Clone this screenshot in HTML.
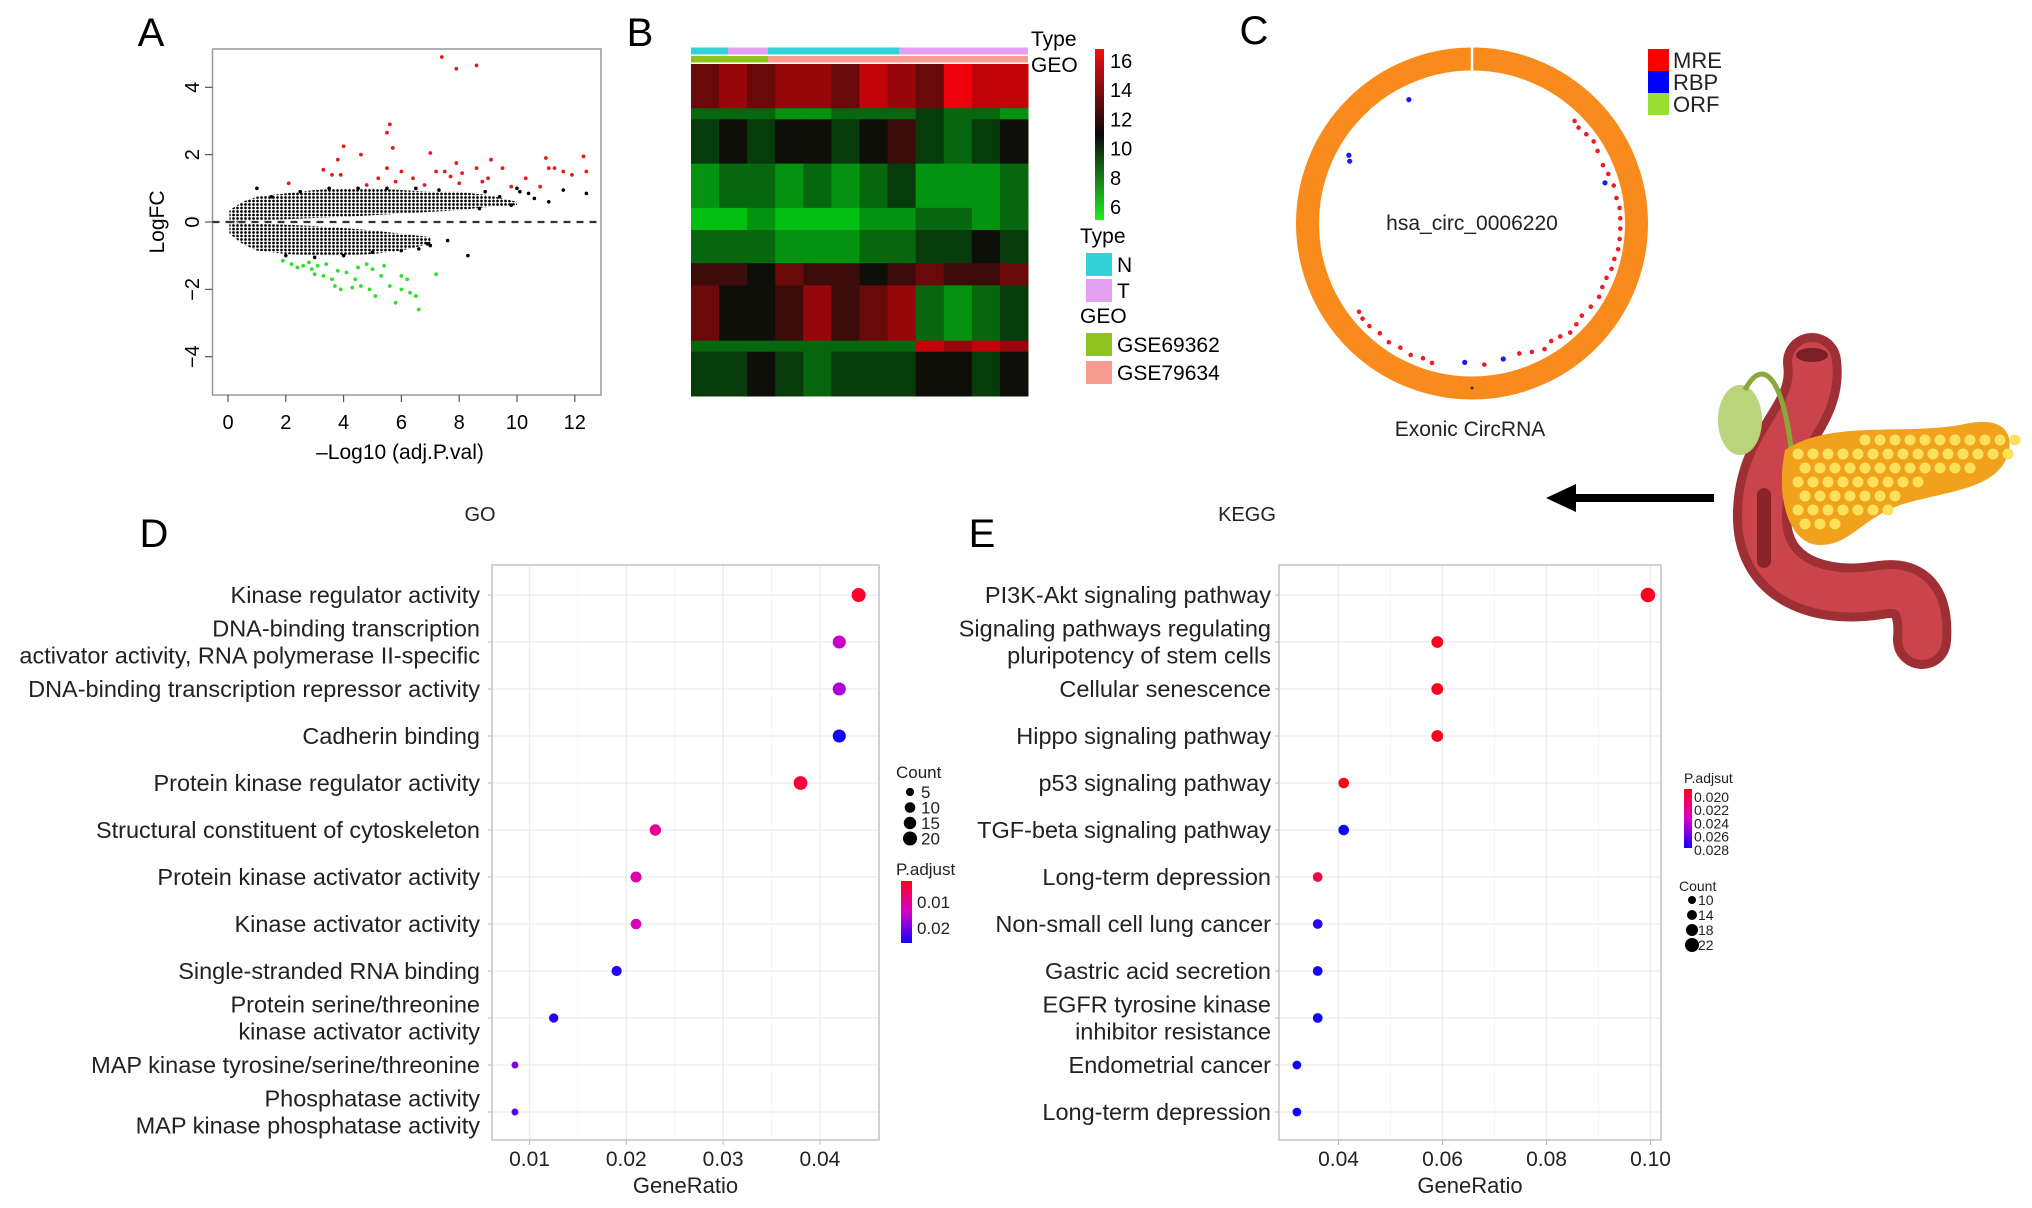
<!DOCTYPE html>
<html><head><meta charset="utf-8"><style>
html,body{margin:0;padding:0;background:#fff;}
svg{display:block;font-family:"Liberation Sans",sans-serif;}
</style></head><body>
<svg id="fig" width="2032" height="1208" viewBox="0 0 2032 1208" xmlns="http://www.w3.org/2000/svg">
<defs>
  <pattern id="dotpat" x="0" y="0" width="4" height="3.5" patternUnits="userSpaceOnUse">
    <circle cx="1.5" cy="1.5" r="1.35" fill="#000"/>
  </pattern>
</defs>
<rect x="0" y="0" width="2032" height="1208" fill="#fff"/>
<g id="pa"></g>
<g id="pb"></g>
<g id="pc"></g>
<g id="pd"></g>
<g id="pe"></g>
<g id="pancreas">
  <path d="M1812,362 C1820,420 1760,440 1762,520 C1764,580 1820,600 1880,590 C1910,585 1925,600 1922,640" fill="none" stroke="#9e2f34" stroke-width="58" stroke-linecap="round"/>
  <path d="M1812,362 C1820,420 1760,440 1762,520 C1764,580 1820,600 1880,590 C1910,585 1925,600 1922,640" fill="none" stroke="#c9454b" stroke-width="40" stroke-linecap="round"/>
  <ellipse cx="1812" cy="355" rx="16" ry="7" fill="#7a1f25"/>
  <rect x="1757" y="488" width="14" height="80" rx="7" fill="#8a2429"/>
  <ellipse cx="1740" cy="420" rx="22" ry="35" fill="#b9d47a"/>
  <path d="M1745,390 C1760,360 1780,370 1790,440 L1800,520" fill="none" stroke="#8aa83a" stroke-width="5"/>
  <path d="M1785,450 C1830,420 1900,435 1960,425 C2000,415 2015,430 2008,455 C1995,490 1950,490 1900,505 C1860,520 1850,545 1820,545 C1790,545 1775,500 1785,450 Z" fill="#f0a21c"/>
  <g id="pbumps"></g>
</g>
<g>
  <line x1="1714" y1="498" x2="1570" y2="498" stroke="#000" stroke-width="8"/>
  <polygon points="1546,498 1576,484 1576,512" fill="#000"/>
</g>
</svg>
<script>
// ===== Panel A data (volcano) =====
const volRedX = [7.4,7.9,8.6,5.6,5.5,5.7,4.0,3.8,4.6,7.0,3.3,3.6,3.9,2.1,5.5,6.0,5.8,6.4,7.2,7.5,7.9,8.1,9.1,9.5,8.6,9.0,10.3,11.0,11.1,11.3,11.6,11.9,12.3,12.4,8.0,6.8,10.8,4.8,5.2,7.7,8.8,9.8];
const volRedY = [4.9,4.55,4.65,2.9,2.65,2.2,2.25,1.85,2.0,2.05,1.55,1.4,1.4,1.15,1.6,1.5,1.2,1.3,1.5,1.5,1.75,1.45,1.85,1.6,1.6,1.3,1.3,1.9,1.6,1.6,1.5,1.4,1.95,1.5,1.15,1.1,1.05,1.1,1.3,1.35,1.2,1.05];
const volGreenX = [1.9,2.2,2.6,2.9,3.1,3.3,3.6,3.7,3.9,4.3,4.6,4.9,5.1,5.3,5.6,5.8,6.0,6.2,6.3,6.6,6.5,4.1,4.5,5.0,2.8,3.0,2.4,3.4,4.8,5.4,7.2,6.0,3.8,4.4];
const volGreenY = [-1.15,-1.25,-1.3,-1.4,-1.3,-1.6,-1.7,-1.9,-2.0,-1.95,-1.9,-2.0,-2.2,-1.6,-1.9,-2.4,-2.0,-1.7,-2.1,-2.6,-2.2,-1.5,-1.35,-1.4,-1.2,-1.55,-1.35,-1.25,-1.25,-1.3,-1.55,-1.6,-1.45,-1.7];
const volBlackX = [8.3,7.6,7.0,10.1,11.6,12.4,11.1,9.4,10.6,8.7,10.0,1.0,6.6,9.8,10.4,8.9,7.3,6.9,2.0,3.0,4.0,5.0,6.0,1.5,2.5,3.5,4.5,5.5,6.5];
const volBlackY = [-1.0,-0.55,-0.7,0.9,0.95,0.85,0.6,0.75,0.7,0.4,1.0,1.0,-0.8,0.5,0.85,0.9,0.95,-0.65,-1.0,-1.05,-1.0,-0.9,-0.85,0.75,0.9,1.0,1.0,1.0,1.0];
const cloudX = [0.05,0.5,1,2,3,4,5,6,7,8,9,10];
const cloudUpTop = [0.35,0.6,0.75,0.85,0.95,1.0,1.0,0.95,0.9,0.9,0.8,0.6];
const cloudUpBot = [0.0,0.02,0.05,0.08,0.12,0.15,0.2,0.25,0.3,0.35,0.45,0.5];
const cloudLoX = [0.05,0.5,1,2,3,4,5,6,7];
const cloudLoTop = [0.0,-0.03,-0.05,-0.08,-0.12,-0.18,-0.25,-0.35,-0.45];
const cloudLoBot = [-0.35,-0.65,-0.85,-0.95,-1.0,-1.0,-0.95,-0.85,-0.65];
const volXTicks = [0,2,4,6,8,10,12];
const volYTicks = [4,2,0,-2,-4];

// ===== Panel B data (heatmap): bands x columns =====
const hmBandRows = [4,1,4,4,2,3,2,5,1,4];
const hmValues = [
 [13,14,13,14,14,13,15,14,13,16,15,15],
 [9,9,9,8,8,9,9,9,10,9,9,8],
 [10,11,10,11,11,10,11,12,10,9,10,11],
 [8,9,9,8,9,8,9,10,8,8,8,9],
 [7,7,8,7,7,7,8,8,9,9,8,9],
 [9,9,9,8,8,8,9,9,10,10,11,10],
 [12,12,11,13,12,12,11,12,13,12,12,13],
 [13,11,11,12,14,12,13,14,9,8,9,10],
 [9,9,9,9,9,9,9,9,15,14,15,14],
 [10,10,11,10,9,10,10,10,11,11,10,11]
];
const hmColorTicks = [16,14,12,10,8,6];

// ===== Panel C data =====
const mreAngle = [45,48,52,56,60,66,70,75,80,84,88,92,96,100,104,108,112,116,120,125,130,134,138,142,146,150,155,160,175,196,200,205,210,215,220,225,229,232];
const mreRad = [0.86,0.85,0.86,0.87,0.86,0.85,0.86,0.87,0.87,0.88,0.88,0.88,0.88,0.88,0.87,0.87,0.86,0.86,0.87,0.86,0.85,0.86,0.87,0.85,0.84,0.86,0.84,0.82,0.84,0.86,0.85,0.86,0.85,0.86,0.85,0.86,0.86,0.85];
const rbpAngle = [-27,-61,-63,73,183,167];
const rbpRad = [0.79,0.8,0.78,0.79,0.79,0.79];

// ===== Panel D data (GO) =====
const goTerms = [["Kinase regulator activity"],["DNA-binding transcription","activator activity, RNA polymerase II-specific"],["DNA-binding transcription repressor activity"],["Cadherin binding"],["Protein kinase regulator activity"],["Structural constituent of cytoskeleton"],["Protein kinase activator activity"],["Kinase activator activity"],["Single-stranded RNA binding"],["Protein serine/threonine","kinase activator activity"],["MAP kinase tyrosine/serine/threonine"],["Phosphatase activity","MAP kinase phosphatase activity"]];
const goRatio = [0.044,0.042,0.042,0.042,0.038,0.023,0.021,0.021,0.019,0.0125,0.0085,0.0085];
const goCount = [20,17,17,17,19,12,11,10,9,7,3,3];
const goPadj = [0.001,0.014,0.016,0.026,0.002,0.009,0.011,0.012,0.025,0.025,0.019,0.022];
const goXTicks = [0.01,0.02,0.03,0.04];
const goCountLegend = [5,10,15,20];

// ===== Panel E data (KEGG) =====
const keggTerms = [["PI3K-Akt signaling pathway"],["Signaling pathways regulating","pluripotency of stem cells"],["Cellular senescence"],["Hippo signaling pathway"],["p53 signaling pathway"],["TGF-beta signaling pathway"],["Long-term depression"],["Non-small cell lung cancer"],["Gastric acid secretion"],["EGFR tyrosine kinase","inhibitor resistance"],["Endometrial cancer"],["Long-term depression"]];
const keggRatio = [0.0995,0.059,0.059,0.059,0.041,0.041,0.036,0.036,0.036,0.036,0.032,0.032];
const keggCount = [22,13,13,13,10,10,8,8,8,8,6,6];
const keggPadj = [0.020,0.020,0.020,0.020,0.020,0.0285,0.021,0.028,0.0285,0.0285,0.0285,0.0285];
const keggXTicks = [0.04,0.06,0.08,0.10];
const keggCountLegend = [10,14,18,22];
const keggPadjLegend = ["0.020","0.022","0.024","0.026","0.028"];

const NS = "http://www.w3.org/2000/svg";
function mk(parent, tag, attrs, text){
  const e = document.createElementNS(NS, tag);
  for (const k in attrs) e.setAttribute(k, attrs[k]);
  if (text !== undefined) e.textContent = text;
  parent.appendChild(e);
  return e;
}

// ---------- Panel A ----------
(function(){
  const g = document.getElementById('pa');
  const X = v => 228 + v * 28.9;
  const Y = v => 222 - v * 33.67;
  let t = mk(g,'text',{x:151,y:46,'font-size':40,'text-anchor':'middle'},'A');
   
  let box = mk(g,'rect',{x:212.5,y:49,width:388.5,height:346,fill:'none',stroke:'#999','stroke-width':1.5});
   
  let d = 'M';
  cloudX.forEach((x,i)=>{ d += (i?' L':'')+X(x)+','+Y(cloudUpTop[i]); });
  for (let i=cloudX.length-1;i>=0;i--) d += ' L'+X(cloudX[i])+','+Y(cloudUpBot[i]);
  d += ' Z';
  let c1 = mk(g,'path',{d:d,fill:'url(#dotpat)'});
   
  d = 'M';
  cloudLoX.forEach((x,i)=>{ d += (i?' L':'')+X(x)+','+Y(cloudLoTop[i]); });
  for (let i=cloudLoX.length-1;i>=0;i--) d += ' L'+X(cloudLoX[i])+','+Y(cloudLoBot[i]);
  d += ' Z';
  let c2 = mk(g,'path',{d:d,fill:'url(#dotpat)'});
   
  volBlackX.forEach((x,i)=>{ const p = mk(g,'circle',{cx:X(x),cy:Y(volBlackY[i]),r:1.8,fill:'#000'});
      });
  volRedX.forEach((x,i)=>{ const p = mk(g,'circle',{cx:X(x),cy:Y(volRedY[i]),r:1.9,fill:'#e41a1c'});
      });
  volGreenX.forEach((x,i)=>{ const p = mk(g,'circle',{cx:X(x),cy:Y(volGreenY[i]),r:1.9,fill:'#33dd33'});
      });
  let dl = mk(g,'line',{x1:212.5,x2:601,y1:Y(0),y2:Y(0),stroke:'#333','stroke-width':2.2,'stroke-dasharray':'7,6'});
   
  volXTicks.forEach(v=>{
    mk(g,'line',{x1:X(v),x2:X(v),y1:395,y2:402,stroke:'#555','stroke-width':1.2});
    const tt = mk(g,'text',{x:X(v),y:429,'font-size':20,'text-anchor':'middle'},String(v));
     
  });
  volYTicks.forEach(v=>{
    mk(g,'line',{x1:205,x2:212.5,y1:Y(v),y2:Y(v),stroke:'#555','stroke-width':1.2});
    const tt = mk(g,'text',{x:0,y:0,'font-size':20,'text-anchor':'middle',transform:'translate(199,'+Y(v)+') rotate(-90)'},v<0?'−'+(-v):String(v));
     
  });
  let xl = mk(g,'text',{x:400,y:459,'font-size':21,'text-anchor':'middle'},'–Log10 (adj.P.val)');
   
  let yl = mk(g,'text',{x:0,y:0,'font-size':21,'text-anchor':'middle',transform:'translate(164,222) rotate(-90)'},'LogFC');
   
})();

// ---------- Panel B ----------
(function(){
  const g = document.getElementById('pb');
  const x0 = 691, x1 = 1028, y0 = 64, y1 = 396;
  let t = mk(g,'text',{x:640,y:46,'font-size':40,'text-anchor':'middle'},'B');
   
  function col(v){
    const a = Math.max(0,Math.min(1,(v-6)/10));
    if (a < 0.5){ const k=(0.5-a)/0.5; return 'rgb('+Math.round(10*(1-k))+','+Math.round(15+220*k)+','+Math.round(10*(1-k)+20*k)+')'; }
    const k=(a-0.5)/0.5; return 'rgb('+Math.round(15+225*k)+','+Math.round(15*(1-k))+',10)';
  }
  const ncol = hmValues[0].length, cw = (x1-x0)/ncol;
  const totalRows = hmBandRows.reduce((a,b)=>a+b,0), rh = (y1-y0)/totalRows;
  let yy = y0;
  hmValues.forEach((row,bi)=>{
    const h = hmBandRows[bi]*rh;
    row.forEach((v,ci)=>{
      const r = mk(g,'rect',{x:x0+ci*cw,y:yy,width:cw+0.5,height:h+0.5,fill:col(v)});
       
    });
    yy += h;
  });
  const typeSegs = [[691,728,'#34d0d8'],[728,768,'#e39ff0'],[768,899,'#34d0d8'],[899,1028,'#e39ff0']];
  typeSegs.forEach(s=>{ const r=mk(g,'rect',{x:s[0],y:47.5,width:s[1]-s[0],height:7,fill:s[2]});
      });
  const geoSegs = [[691,768,'#8dc21f'],[768,1028,'#f79c8e']];
  geoSegs.forEach(s=>{ const r=mk(g,'rect',{x:s[0],y:56,width:s[1]-s[0],height:6.5,fill:s[2]});
      });
  let a1 = mk(g,'text',{x:1031,y:46,'font-size':21},'Type');  
  let a2 = mk(g,'text',{x:1031,y:72,'font-size':21},'GEO');  
  const defs = mk(g,'defs',{});
  const lg = mk(defs,'linearGradient',{id:'hmgrad',x1:0,y1:0,x2:0,y2:1});
  [[0,'#f01010'],[0.5,'#0a0a0a'],[1,'#22ee22']].forEach(s=>mk(lg,'stop',{offset:s[0],'stop-color':s[1]}));
  const cb = mk(g,'rect',{x:1095,y:49,width:9,height:171,fill:'url(#hmgrad)'});
   
  hmColorTicks.forEach(v=>{
    const yv = 61 + (16-v)/10*146;
    const tt = mk(g,'text',{x:1110,y:yv+7,'font-size':20},String(v));
     
  });
  const leg = [['Type',null,243],['N','#34d0d8',272],['T','#e39ff0',298],['GEO',null,323],['GSE69362','#8dc21f',352],['GSE79634','#f79c8e',380]];
  leg.forEach(l=>{
    if (l[1]){
      const r = mk(g,'rect',{x:1086,y:l[2]-19,width:26,height:23,fill:l[1]});
       
      const tt = mk(g,'text',{x:1117,y:l[2],'font-size':21},l[0]);
       
    } else {
      const tt = mk(g,'text',{x:1080,y:l[2],'font-size':21},l[0]);
       
    }
  });
})();

// ---------- Panel C ----------
(function(){
  const g = document.getElementById('pc');
  const cx = 1472, cy = 223.5, R = 176, w = 23;
  let t = mk(g,'text',{x:1254,y:44,'font-size':40,'text-anchor':'middle'},'C');
   
  const ring = mk(g,'circle',{cx:cx,cy:cy,r:R-w/2,fill:'none',stroke:'#f98a1c','stroke-width':w});
   
  mk(g,'line',{x1:cx,x2:cx,y1:cy-R-1,y2:cy-R+w+1,stroke:'#fff','stroke-width':2.5});
  mk(g,'circle',{cx:cx,cy:cy+R-w/2,r:1.5,fill:'#333'});
  const rin = R - w;
  mreAngle.forEach((a,i)=>{
    const rr = rin*mreRad[i]/0.88*0.97, th = a*Math.PI/180;
    const p = mk(g,'circle',{cx:cx+rr*Math.sin(th),cy:cy-rr*Math.cos(th),r:2.3,fill:'#ee1c24'});
     
  });
  rbpAngle.forEach((a,i)=>{
    const rr = R*rbpRad[i], th = a*Math.PI/180;
    const p = mk(g,'circle',{cx:cx+rr*Math.sin(th),cy:cy-rr*Math.cos(th),r:2.6,fill:'#1c1cee'});
     
  });
  const ct = mk(g,'text',{x:cx,y:230,'font-size':21,'text-anchor':'middle',fill:'#222'},'hsa_circ_0006220');
   
  const et = mk(g,'text',{x:1470,y:436,'font-size':21,'text-anchor':'middle',fill:'#222'},'Exonic CircRNA');
   
  [['MRE','#ff0000',49],['RBP','#0000ff',71],['ORF','#99e033',93]].forEach(l=>{
    const r = mk(g,'rect',{x:1648,y:l[2],width:21,height:22,fill:l[1]});
     
    const tt = mk(g,'text',{x:1673,y:l[2]+19,'font-size':22,fill:'#222'},l[0]);
     
  });
})();

// ---------- Dot plots ----------
function padjColor(t){
  t = Math.max(0,Math.min(1,t));
  let r,g,b;
  if (t<0.5){ const k=t/0.5; r=255-40*k; g=0; b=30+170*k; }
  else { const k=(t-0.5)/0.5; r=215-195*k; g=0; b=200+55*k; }
  return 'rgb('+Math.round(r)+','+Math.round(g)+','+Math.round(b)+')';
}
function dotplot(gid, opt, terms, ratio, count, padj, ticks){
  const g = document.getElementById(gid);
  const X = v => opt.xA + (v - opt.vA) * opt.pxPer;
  const Y = i => 595 + i * 47;
  const bx = opt.bx0, bw = opt.bx1 - opt.bx0;
  const bg = mk(g,'rect',{x:bx,y:565,width:bw,height:575,fill:'#fff',stroke:'#ccc','stroke-width':1.8});
   
  for (let k=0;k<ticks.length;k++){
    const v = ticks[k];
    mk(g,'line',{x1:X(v),x2:X(v),y1:566,y2:1139,stroke:'#ececec','stroke-width':1.3});
    if (k>0){ const m=(ticks[k]+ticks[k-1])/2; mk(g,'line',{x1:X(m),x2:X(m),y1:566,y2:1139,stroke:'#f6f6f6','stroke-width':1}); }
  }
  terms.forEach((t,i)=>{
    mk(g,'line',{x1:bx+1,x2:bx+bw-1,y1:Y(i),y2:Y(i),stroke:'#ececec','stroke-width':1.3});
    const offs = t.length===1 ? [0] : [-13.5,13.5];
    t.forEach((s,j)=>{
      const tt = mk(g,'text',{x:opt.lx,y:Y(i)+offs[j]+8,'font-size':23.5,'text-anchor':'end',fill:'#222'},s);
       
    });
    mk(g,'line',{x1:bx-4,x2:bx,y1:Y(i),y2:Y(i),stroke:'#bbb','stroke-width':1});
    const r = 1.2 + 1.3*Math.sqrt(count[i]);
    const c = mk(g,'circle',{cx:X(ratio[i]),cy:Y(i),r:r,fill:padjColor((padj[i]-opt.pMin)/(opt.pMax-opt.pMin))});
     
  });
  ticks.forEach(v=>{
    mk(g,'line',{x1:X(v),x2:X(v),y1:1140,y2:1145,stroke:'#bbb','stroke-width':1});
    const tt = mk(g,'text',{x:X(v),y:1166,'font-size':21,'text-anchor':'middle',fill:'#222'},v.toFixed(opt.dec));
     
  });
  const xt = mk(g,'text',{x:(bx+bx+bw)/2,y:1193,'font-size':22,'text-anchor':'middle',fill:'#222'},'GeneRatio');
   
  const tt = mk(g,'text',{x:opt.titleX,y:521,'font-size':20,'text-anchor':'middle',fill:'#222'},opt.title);
   
  const pl = mk(g,'text',{x:opt.letterX,y:547,'font-size':40,'text-anchor':'middle'},opt.letter);
   
  return g;
}
(function(){
  const g = dotplot('pd',{xA:529.5,vA:0.01,pxPer:9680,bx0:492,bx1:879,lx:480,pMin:0,pMax:0.026,dec:2,title:'GO',titleX:480,letter:'D',letterX:154},goTerms,goRatio,goCount,goPadj,goXTicks);
  const ct = mk(g,'text',{x:896,y:778,'font-size':17,fill:'#222'},'Count');
   
  goCountLegend.forEach((v,i)=>{
    const y = 792 + i*15.5;
    const c = mk(g,'circle',{cx:910,cy:y,r:1.2+1.3*Math.sqrt(v),fill:'#000'});
     
    const t = mk(g,'text',{x:921,y:y+6,'font-size':17,fill:'#222'},String(v));
     
  });
  const pt = mk(g,'text',{x:896,y:875,'font-size':17,fill:'#222'},'P.adjust');
   
  const defs = mk(g,'defs',{});
  const lg = mk(defs,'linearGradient',{id:'gograd',x1:0,y1:0,x2:0,y2:1});
  [[0,padjColor(0)],[0.5,padjColor(0.5)],[1,padjColor(1)]].forEach(s=>mk(lg,'stop',{offset:s[0],'stop-color':s[1]}));
  const cb = mk(g,'rect',{x:901,y:881,width:11,height:62,fill:'url(#gograd)'});
   
  [['0.01',908],['0.02',934]].forEach(l=>{
    const t = mk(g,'text',{x:917,y:l[1],'font-size':17,fill:'#222'},l[0]);
     
  });
})();
(function(){
  const g = dotplot('pe',{xA:1338.5,vA:0.04,pxPer:5200,bx0:1279,bx1:1661,lx:1271,pMin:0.020,pMax:0.0285,dec:2,title:'KEGG',titleX:1247,letter:'E',letterX:982},keggTerms,keggRatio,keggCount,keggPadj,keggXTicks);
  const pt = mk(g,'text',{x:1684,y:783,'font-size':14,fill:'#222'},'P.adjsut');
   
  const defs = mk(g,'defs',{});
  const lg = mk(defs,'linearGradient',{id:'kggrad',x1:0,y1:0,x2:0,y2:1});
  [[0,padjColor(0)],[0.5,padjColor(0.5)],[1,padjColor(1)]].forEach(s=>mk(lg,'stop',{offset:s[0],'stop-color':s[1]}));
  const cb = mk(g,'rect',{x:1684,y:789,width:8,height:59,fill:'url(#kggrad)'});
   
  keggPadjLegend.forEach((l,i)=>{
    const t = mk(g,'text',{x:1694,y:802+i*13.2,'font-size':14,fill:'#222'},l);
     
  });
  const ct = mk(g,'text',{x:1679,y:891,'font-size':14,fill:'#222'},'Count');
   
  keggCountLegend.forEach((v,i)=>{
    const y = 900 + i*15;
    const c = mk(g,'circle',{cx:1692,cy:y,r:1.5+0.25*v,fill:'#000'});
     
    const t = mk(g,'text',{x:1698,y:y+5,'font-size':14,fill:'#222'},String(v));
     
  });
})();

(function(){
  const g = document.getElementById('pbumps');
  for (let yy=440; yy<=530; yy+=14){
    for (let xx=1795; xx<=2005; xx+=15){
      const topY = xx < 1960 ? 445 - (xx-1785)*0.08 : 430;
      const botY = xx < 1840 ? 540 : (xx < 1900 ? 520 : 490 - (xx-1900)*0.3);
      if (yy > topY && yy < botY){
        mk(g,'circle',{cx:xx+((yy/14)%2)*7,cy:yy,r:5.5,fill:'#fde15a'});
      }
    }
  }
})();
</script>
</body></html>
